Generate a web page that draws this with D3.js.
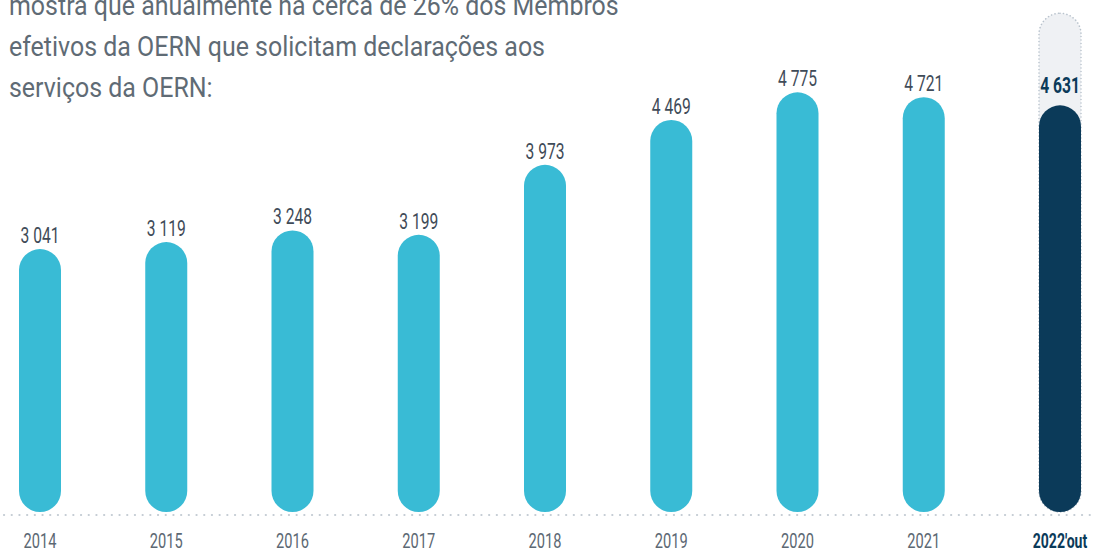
<!DOCTYPE html>
<html>
<head>
<meta charset="utf-8">
<script src="https://cdn.jsdelivr.net/npm/d3@7"></script>
<style>
  html, body { margin: 0; padding: 0; background: #fff; }
  svg { display: block; }
  .intro { font-family: Roboto, "Noto Sans", sans-serif; font-size: 27px; fill: #5f6b75; }
  .val { font-family: Roboto, "Noto Sans", sans-serif; font-size: 22px; fill: #3f4b58; }
  .year { font-family: Roboto, "Noto Sans", sans-serif; font-size: 19.5px; fill: #5c6873; }
</style>
</head>
<body>
<div id="graphicContainer"></div>
<script>
// chart data
var introLines = [
  "mostra que anualmente há cerca de 26% dos Membros",
  "efetivos da OERN que solicitam declarações aos",
  "serviços da OERN:"
]
var years = ["2014", "2015", "2016", "2017", "2018", "2019", "2020", "2021", "2022'out"]
var values = [3041, 3119, 3248, 3199, 3973, 4469, 4775, 4721, 4631]
var highlightYear = "2022'out"
var trackMax = 5650

var width = 1096
var height = 554
var barWidth = 42
var barBottom = 512
var lineY = 515

var svg = d3.select("#graphicContainer").append("svg")
  .attr("width", width)
  .attr("height", height)

// the source uses a compressed face, so squeeze the text horizontally
function squeeze(sel, factor) {
  sel.each(function (d) {
    var f = typeof factor === "function" ? factor(d) : factor
    var w = this.getComputedTextLength()
    d3.select(this).attr("textLength", w * f).attr("lengthAdjust", "spacingAndGlyphs")
  })
}

// intro text, cut off at the top like the source
var intro = svg.selectAll(".intro")
  .data(introLines)
  .enter().append("text")
  .attr("class", "intro")
  .attr("x", 9)
  .attr("y", function (d, i) { return 15 + i * 41 })
  .text(function (d) { return d })

var introFactor = 536 / intro.nodes()[1].getComputedTextLength()
squeeze(intro, introFactor)

var x = d3.scalePoint().domain(years).range([40, 1050])
var y = d3.scaleLinear().domain([0, 5000]).range([524, 72])

// the last (partial) year sits a little further out
function xPos(d) {
  return x(d) + (d === highlightYear ? 10 : 0)
}

var fmt = d3.formatLocale({ decimal: ",", thousands: " ", grouping: [3], currency: ["", "€"] }).format(",")

var data = years.map(function (d, i) { return { year: d, value: values[i] } })

// background track for the current year
svg.append("rect")
  .attr("x", xPos(highlightYear) - barWidth / 2)
  .attr("y", y(trackMax))
  .attr("width", barWidth)
  .attr("height", barBottom - y(trackMax))
  .attr("rx", barWidth / 2)
  .style("fill", "#eff1f4")
  .style("stroke", "#b9c3cd")
  .style("stroke-width", 1.6)
  .style("stroke-dasharray", "0.1 3.4")
  .style("stroke-linecap", "round")

// baseline dots
svg.append("line")
  .attr("x1", 4)
  .attr("x2", width)
  .attr("y1", lineY)
  .attr("y2", lineY)
  .style("stroke", "#c3cbd3")
  .style("stroke-width", 2.2)
  .style("stroke-dasharray", "0.1 7.6")
  .style("stroke-linecap", "round")

svg.selectAll(".bar")
  .data(data)
  .enter().append("rect")
  .attr("class", "bar")
  .attr("x", function (d) { return xPos(d.year) - barWidth / 2 })
  .attr("y", function (d) { return y(d.value) })
  .attr("width", barWidth)
  .attr("height", function (d) { return barBottom - y(d.value) })
  .attr("rx", barWidth / 2)
  .style("fill", function (d) { return d.year === highlightYear ? "#0b3a59" : "#39bbd5" })

var vals = svg.selectAll(".val")
  .data(data)
  .enter().append("text")
  .attr("class", "val")
  .attr("x", function (d) { return xPos(d.year) })
  .attr("y", function (d) { return y(d.value) - (d.year === highlightYear ? 12 : 6) })
  .attr("text-anchor", "middle")
  .style("font-weight", function (d) { return d.year === highlightYear ? "bold" : "normal" })
  .style("fill", function (d) { return d.year === highlightYear ? "#0b3a59" : null })
  .text(function (d) { return fmt(d.value) })
squeeze(vals, 0.71)

var yearLabels = svg.selectAll(".year")
  .data(data)
  .enter().append("text")
  .attr("class", "year")
  .attr("x", function (d) { return xPos(d.year) })
  .attr("y", 548)
  .attr("text-anchor", "middle")
  .style("font-weight", function (d) { return d.year === highlightYear ? "bold" : "normal" })
  .style("fill", function (d) { return d.year === highlightYear ? "#0b3a59" : null })
  .text(function (d) { return d.year })
squeeze(yearLabels, function (d) { return d.year === highlightYear ? 0.72 : 0.75 })
</script>
</body>
</html>
